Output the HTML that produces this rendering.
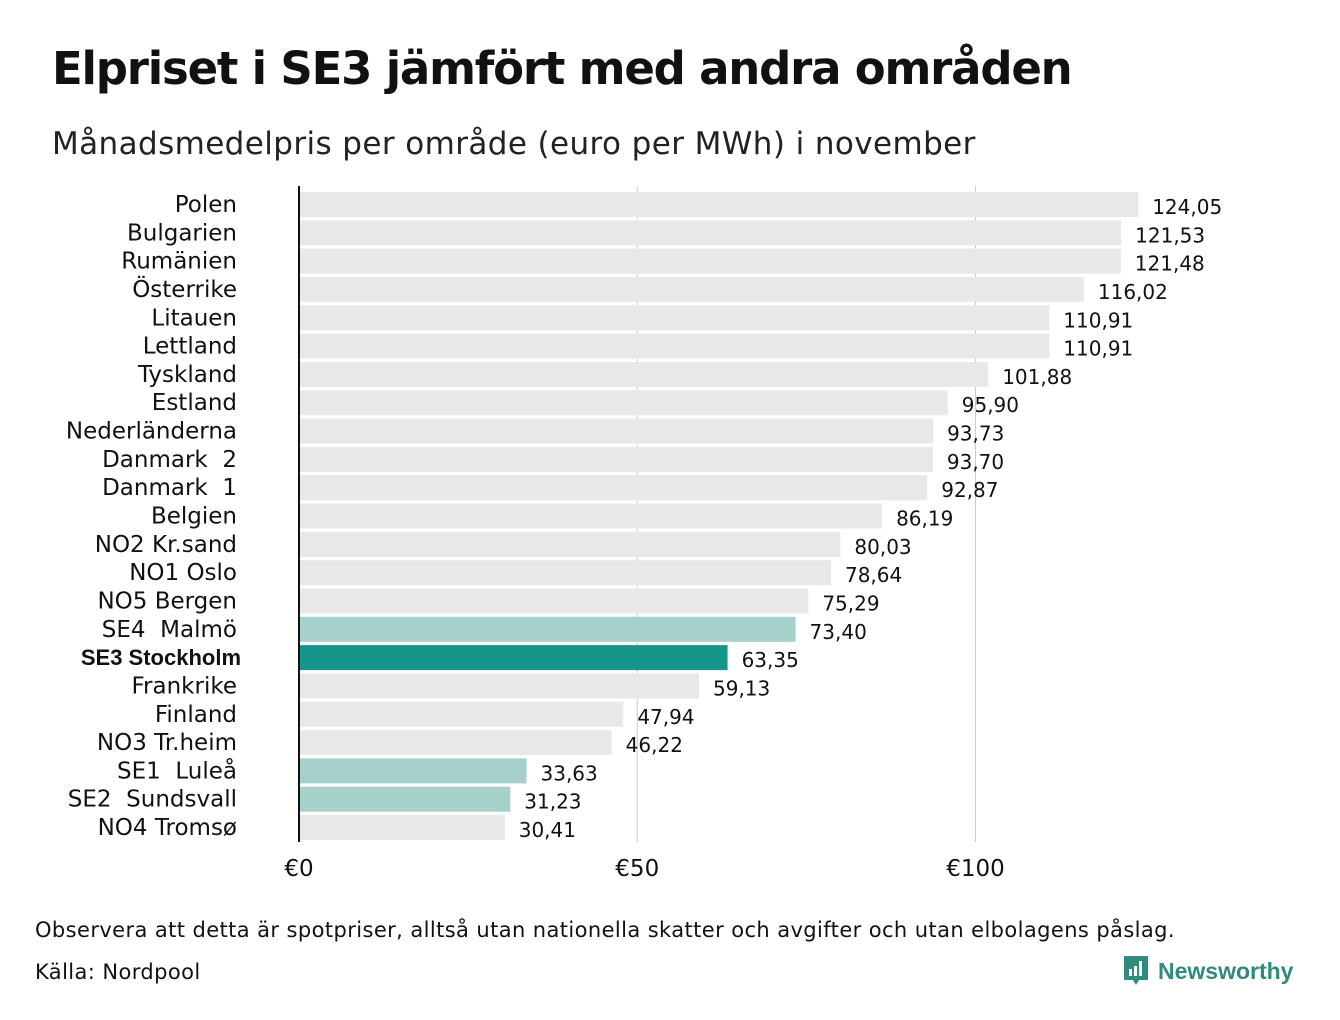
<!DOCTYPE html>
<html><head><meta charset="utf-8"><style>
body{margin:0;background:#fff;font-family:"DejaVu Sans","Liberation Sans",sans-serif;}
#wrap{position:relative;width:1340px;height:1020px;overflow:hidden;}
</style></head><body><div id="wrap">
<div style="position:absolute;left:52px;top:42px;font-size:45px;font-weight:bold;color:#111;font-family:'DejaVu Sans',sans-serif;letter-spacing:-1.2px">Elpriset i SE3 jämfört med andra områden</div>
<div style="position:absolute;left:52px;top:126px;font-size:31px;color:#222;letter-spacing:0.4px">Månadsmedelpris per område (euro per MWh) i november</div>
<svg id="chart" width="1340" height="1020" style="position:absolute;left:0;top:0"></svg>
<div style="position:absolute;left:35px;top:918px;font-size:21px;color:#111;letter-spacing:0.4px">Observera att detta är spotpriser, alltså utan nationella skatter och avgifter och utan elbolagens påslag.</div>
<div style="position:absolute;left:35px;top:960px;font-size:21px;color:#111;letter-spacing:0.4px">Källa: Nordpool</div>
<div style="position:absolute;left:1122px;top:954px;height:34px;display:flex;align-items:center">
<svg width="28" height="34" viewBox="0 0 28 34"><path d="M2 2h24v24h-9l-3 5-3-5H2z" fill="#2e8b7e"/><rect x="7" y="15" width="3" height="7" fill="#fff"/><rect x="12" y="12" width="3" height="10" fill="#fff"/><rect x="17" y="7" width="3" height="15" fill="#fff"/></svg>
<span style="margin-left:8px;font-size:23px;font-weight:bold;color:#2e8b7e;font-family:'Liberation Sans',sans-serif">Newsworthy</span></div>
</div>
<script>
const categories=["Polen","Bulgarien","Rumänien","Österrike","Litauen","Lettland","Tyskland","Estland","Nederländerna","Danmark  2","Danmark  1","Belgien","NO2 Kr.sand","NO1 Oslo","NO5 Bergen","SE4  Malmö","SE3 Stockholm","Frankrike","Finland","NO3 Tr.heim","SE1  Luleå","SE2  Sundsvall","NO4 Tromsø"];
const values=[124.05,121.53,121.48,116.02,110.91,110.91,101.88,95.90,93.73,93.70,92.87,86.19,80.03,78.64,75.29,73.40,63.35,59.13,47.94,46.22,33.63,31.23,30.41];
const tickValues=[0,50,100];
const tickLabels=["€0","€50","€100"];
const svg=document.getElementById('chart');const NS="http://www.w3.org/2000/svg";
const x=v=>299+v*6.765;
const y=i=>192+i*28.32;
function mk(t,a){const e=document.createElementNS(NS,t);for(const k in a)e.setAttribute(k,a[k]);svg.appendChild(e);return e;}
tickValues.forEach((t,i)=>{
 if(t>0){const g=mk('line',{x1:x(t),x2:x(t),y1:186,y2:842,stroke:'#c8c8dc','stroke-width':1});
 
 }
 const l=mk('text',{x:x(t),y:876,'text-anchor':'middle','font-size':23,fill:'#111','font-family':'DejaVu Sans, sans-serif'});l.textContent=tickLabels[i];
 
 
});
categories.forEach((c,i)=>{
 const hl=c==="SE3 Stockholm";const se=/^SE[124]/.test(c);
 const b=mk('rect',{x:x(0),y:y(i),width:x(values[i])-x(0),height:25,fill:hl?'#16968a':se?'#a6d0ca':'#e8e8e8'});
 
 
 const lb=mk('text',{x:237,y:y(i)+20,'text-anchor':'end','font-size':hl?22:23,'font-weight':hl?'bold':'normal',fill:'#111','font-family':hl?'Liberation Sans, sans-serif':'DejaVu Sans, sans-serif'});
 lb.style.whiteSpace='pre';
 if(hl)lb.setAttribute('x',241);
 lb.textContent=c;
 
 
 const v=mk('text',{x:x(values[i])+14,y:y(i)+22,'font-size':20,fill:'#111','font-family':'DejaVu Sans, sans-serif'});
 v.textContent=values[i].toFixed(2).replace('.',',');
 
 
});
const ax=mk('line',{x1:x(0),x2:x(0),y1:186,y2:842,stroke:'#111','stroke-width':2});


</script></body></html>
